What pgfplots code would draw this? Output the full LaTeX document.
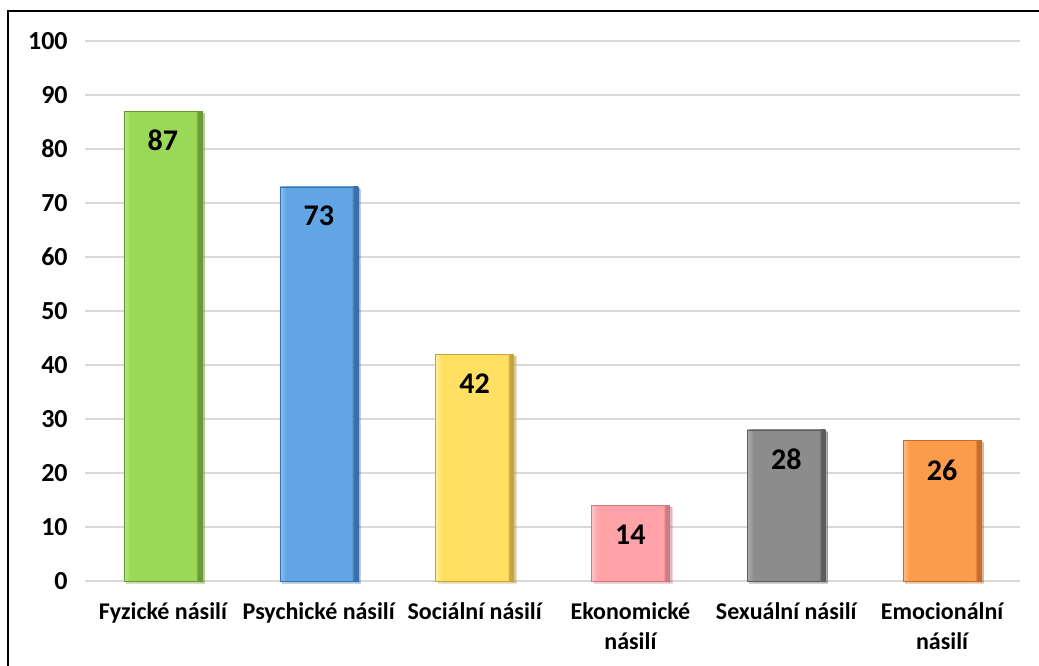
\documentclass[border=0pt]{standalone}
\usepackage{pgfplots}
\pgfplotsset{compat=1.18}
\usetikzlibrary{shadows}
\usepackage{fontspec}
\setmainfont{Carlito}
\definecolor{gM}{HTML}{9AD958}\definecolor{gL}{HTML}{B8E885}\definecolor{gR}{HTML}{6A9A36}
\definecolor{bM}{HTML}{62A5E4}\definecolor{bL}{HTML}{8AC2F2}\definecolor{bR}{HTML}{3A70AA}
\definecolor{yM}{HTML}{FFE062}\definecolor{yL}{HTML}{FFEE9A}\definecolor{yR}{HTML}{CBA236}
\definecolor{pM}{HTML}{FFA3A8}\definecolor{pL}{HTML}{FFC6CA}\definecolor{pR}{HTML}{CF7A80}
\definecolor{sM}{HTML}{8C8C8C}\definecolor{sL}{HTML}{AEAEAE}\definecolor{sR}{HTML}{5C5C5C}
\definecolor{oM}{HTML}{FA9C4C}\definecolor{oL}{HTML}{FFBE82}\definecolor{oR}{HTML}{C46E2A}
\pgfdeclarehorizontalshading{gbar}{100bp}{color(0bp)=(gL); color(25bp)=(gL); color(29bp)=(gM); color(71bp)=(gM); color(72.5bp)=(gR); color(75bp)=(gR); color(100bp)=(gR)}
\pgfdeclarehorizontalshading{bbar}{100bp}{color(0bp)=(bL); color(25bp)=(bL); color(29bp)=(bM); color(71bp)=(bM); color(72.5bp)=(bR); color(75bp)=(bR); color(100bp)=(bR)}
\pgfdeclarehorizontalshading{ybar}{100bp}{color(0bp)=(yL); color(25bp)=(yL); color(29bp)=(yM); color(71bp)=(yM); color(72.5bp)=(yR); color(75bp)=(yR); color(100bp)=(yR)}
\pgfdeclarehorizontalshading{pbar}{100bp}{color(0bp)=(pL); color(25bp)=(pL); color(29bp)=(pM); color(71bp)=(pM); color(72.5bp)=(pR); color(75bp)=(pR); color(100bp)=(pR)}
\pgfdeclarehorizontalshading{sbar}{100bp}{color(0bp)=(sL); color(25bp)=(sL); color(29bp)=(sM); color(71bp)=(sM); color(72.5bp)=(sR); color(75bp)=(sR); color(100bp)=(sR)}
\pgfdeclarehorizontalshading{obar}{100bp}{color(0bp)=(oL); color(25bp)=(oL); color(29bp)=(oM); color(71bp)=(oM); color(72.5bp)=(oR); color(75bp)=(oR); color(100bp)=(oR)}
\begin{document}
\begin{tikzpicture}
\begin{axis}[
 at={(0pt,0pt)}, anchor=south west,
 scale only axis, width=701.25pt, height=405pt,
 xmin=-0.5, xmax=5.5, ymin=0, ymax=100,
 ytick={0,10,...,100},
 xtick={0,...,5},
 xticklabels={Fyzické násilí, Psychické násilí, Sociální násilí, Ekonomické\\násilí, Sexuální násilí, Emocionální\\násilí},
 xticklabel style={align=center, font=\bfseries\fontsize{18}{22.5}\selectfont, yshift=-13pt},
 yticklabel style={font=\bfseries\fontsize{19.5}{22}\selectfont, xshift=-9.5pt},
 /pgf/number format/assume math mode=true,
 axis line style={draw=none},
 major tick length=0pt,
 ymajorgrids, grid style={draw=black!15, line width=1.3pt},
 ybar, bar width=58.5pt, bar shift=0pt,
 nodes near coords,
 every node near coord/.append style={anchor=center, yshift=-22pt, font=\bfseries\fontsize{22.5}{24}\selectfont, text=black},
 every axis plot/.append style={drop shadow={shadow xshift=1.8pt, shadow yshift=-1.5pt, opacity=0.3}},
 clip=false,
]
\addplot[draw=gR, line width=0.3pt, shading=gbar] coordinates {(0,87)};
\addplot[draw=bR, line width=0.3pt, shading=bbar] coordinates {(1,73)};
\addplot[draw=yR, line width=0.3pt, shading=ybar] coordinates {(2,42)};
\addplot[draw=pR, line width=0.3pt, shading=pbar] coordinates {(3,14)};
\addplot[draw=sR, line width=0.3pt, shading=sbar] coordinates {(4,28)};
\addplot[draw=oR, line width=0.3pt, shading=obar] coordinates {(5,26)};
\end{axis}
\pgfresetboundingbox
\useasboundingbox (-63.75pt,-63.75pt) rectangle (715.5pt,435.75pt);
\draw[line width=1.3pt] (-57.75pt,-80pt) rectangle (730pt,427.5pt);
\end{tikzpicture}
\end{document}
